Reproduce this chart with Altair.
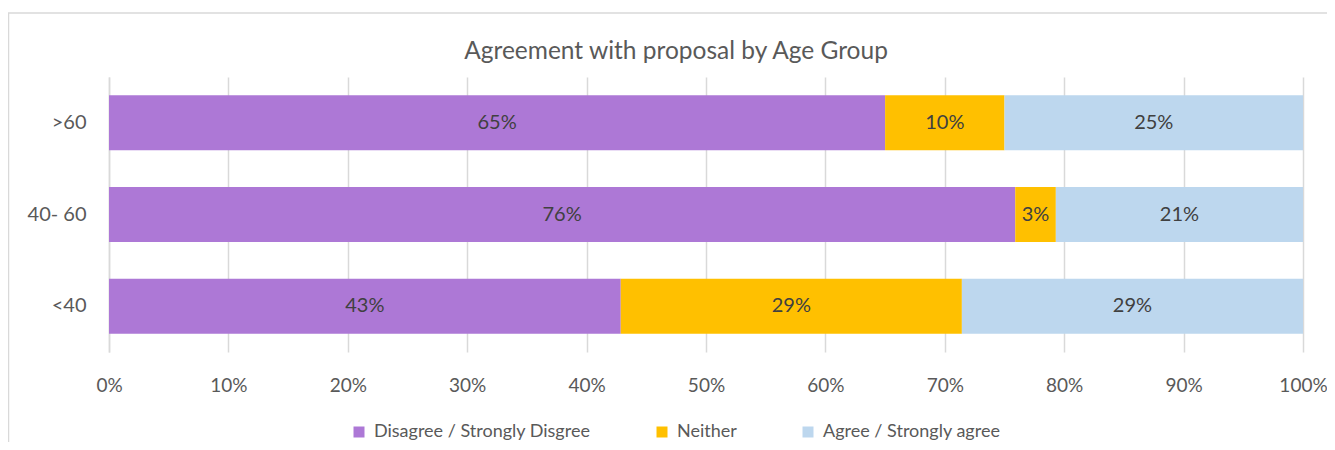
import altair as alt
import pandas as pd

ages = [">60", "40- 60", "<40"]
categories = ["Disagree / Strongly Disgree", "Neither", "Agree / Strongly agree"]
disagree = [0.650, 0.759, 0.4286]
neither = [0.100, 0.034, 0.2857]
agree = [0.250, 0.207, 0.2857]
colors = ["#AD78D6", "#FFC000", "#BDD7EE"]
x_ticks = [0, 0.1, 0.2, 0.3, 0.4, 0.5, 0.6, 0.7, 0.8, 0.9, 1.0]

rows = []
for i, a in enumerate(ages):
    for j, (c, vals) in enumerate(zip(categories, [disagree, neither, agree])):
        rows.append({"age": a, "cat": c, "order": j, "value": vals[i]})
df = pd.DataFrame(rows)

FONT = "Lato"
W, H = 1194, 275

base = alt.Chart(df).transform_stack(
    stack="value", as_=["x0", "x1"], groupby=["age"],
    sort=[alt.SortField("order", order="ascending")]
).transform_calculate(mid="(datum.x0 + datum.x1) / 2")

yenc = alt.Y("age:N", sort=ages, title=None,
             scale=alt.Scale(paddingInner=0.4, paddingOuter=0.2),
             axis=alt.Axis(domain=True, domainColor="#D9D9D9", domainWidth=1.5,
                           ticks=False, labelFontSize=20, labelColor="#595959",
                           labelPadding=23, labelFont=FONT))

bars = base.mark_bar().encode(
    x=alt.X("x0:Q", scale=alt.Scale(domain=[0, 1], nice=False), title=None,
            axis=alt.Axis(values=x_ticks, format=".0%", grid=True, gridColor="#D9D9D9",
                          gridWidth=1.5, domain=False, ticks=False, labelFontSize=19,
                          labelColor="#595959", labelPadding=24, labelFont=FONT,
                          labelFlush=False)),
    x2="x1:Q",
    y=yenc,
    color=alt.Color("cat:N", sort=categories, title=None,
                    scale=alt.Scale(domain=categories, range=colors),
                    legend=alt.Legend(orient="none", legendX=241, legendY=346,
                                      direction="horizontal",
                                      symbolType="square", symbolSize=121,
                                      symbolStrokeWidth=0, labelFontSize=18,
                                      labelColor="#595959", labelFont=FONT,
                                      labelOffset=6, columnPadding=62, labelLimit=400)),
)

labels = base.mark_text(fontSize=20, color="#404040", font=FONT).encode(
    x="mid:Q", y=alt.Y("age:N", sort=ages), text=alt.Text("value:Q", format=".0%"),
)

frame_top = alt.Chart(pd.DataFrame({"k": [0]})).mark_rule(color="#D9D9D9", strokeWidth=1.5).encode(
    x=alt.value(-101), x2=alt.value(1240), y=alt.value(-64))
frame_left = alt.Chart(pd.DataFrame({"k": [0]})).mark_rule(color="#D9D9D9", strokeWidth=1.5).encode(
    x=alt.value(-100.5), y=alt.value(-64), y2=alt.value(400))

chart = alt.layer(bars, labels, frame_top, frame_left).properties(
    width=W, height=H,
    title=alt.TitleParams("Agreement with proposal by Age Group", fontSize=24.5,
                          font=FONT, fontWeight="normal", color="#595959",
                          anchor="middle", frame="group", dx=-30, offset=0, dy=52),
    autosize=alt.AutoSizeParams(type="none"),
    padding={"left": 101, "top": 69, "right": 24, "bottom": 90},
).configure_view(stroke=None)

chart.save("out.html", embed_options={"renderer": "svg", "actions": False})
